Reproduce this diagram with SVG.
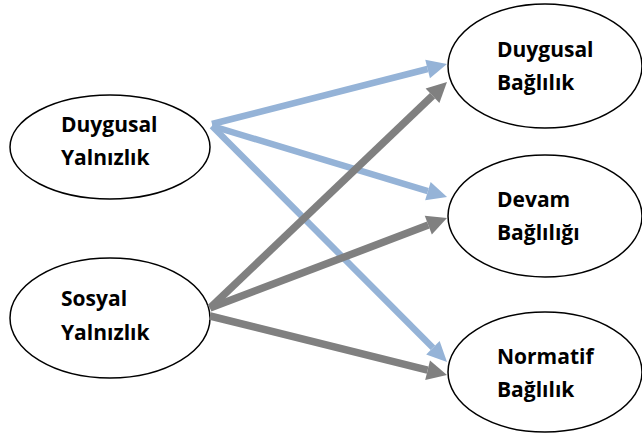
<svg xmlns="http://www.w3.org/2000/svg" width="642" height="435" viewBox="0 0 642 435">
<style>
.node ellipse{fill:#fff;stroke:#000;stroke-width:1.5}
.node text{font-family:"Open Sans","Liberation Sans",sans-serif;font-weight:700;font-size:21px;fill:#000}
.blue{stroke:#95B3D7;stroke-width:6.5;fill:none}
.gray{stroke:#808080;stroke-width:7.5;fill:none}
</style>
<defs>
<marker id="ab" viewBox="0 -10 20 20" refX="0" refY="0" markerWidth="20" markerHeight="20" markerUnits="userSpaceOnUse" orient="auto" overflow="visible">
<path d="M0,-9.5 L20,0 L0,9.5 z" fill="#95B3D7"/>
</marker>
<marker id="ag" viewBox="0 -10 20 20" refX="0" refY="0" markerWidth="20" markerHeight="20" markerUnits="userSpaceOnUse" orient="auto" overflow="visible">
<path d="M0,-10 L20,0 L0,10 z" fill="#808080"/>
</marker>
</defs>
<g id="n1" class="node"><ellipse cx="110" cy="147" rx="100" ry="52"/><text x="61" y="132">Duygusal</text><text x="61" y="165">Yalnızlık</text></g>
<g id="n2" class="node"><ellipse cx="110" cy="318" rx="100" ry="60"/><text x="61" y="306">Sosyal</text><text x="61" y="340">Yalnızlık</text></g>
<g id="n3" class="node"><ellipse cx="545" cy="66" rx="97" ry="62"/><text x="497" y="57">Duygusal</text><text x="497" y="90">Bağlılık</text></g>
<g id="n4" class="node"><ellipse cx="545" cy="216" rx="97" ry="61"/><text x="497" y="207">Devam</text><text x="497" y="240">Bağlılığı</text></g>
<g id="n5" class="node"><ellipse cx="545" cy="372" rx="97" ry="60"/><text x="497" y="364">Normatif</text><text x="497" y="397">Bağlılık</text></g>
<g id="connectors">
<line class="blue" x1="212" y1="124" x2="427.6" y2="69" marker-end="url(#ab)"/>
<line class="blue" x1="212" y1="126" x2="427.9" y2="191.2" marker-end="url(#ab)"/>
<line class="blue" x1="212" y1="126" x2="432.9" y2="347.8" marker-end="url(#ab)"/>
<line class="gray" x1="210" y1="308" x2="432.5" y2="95.8" marker-end="url(#ag)"/>
<line class="gray" x1="210" y1="308" x2="428.3" y2="225.1" marker-end="url(#ag)"/>
<line class="gray" x1="210" y1="316" x2="427.6" y2="370.2" marker-end="url(#ag)"/>
</g>
</svg>
